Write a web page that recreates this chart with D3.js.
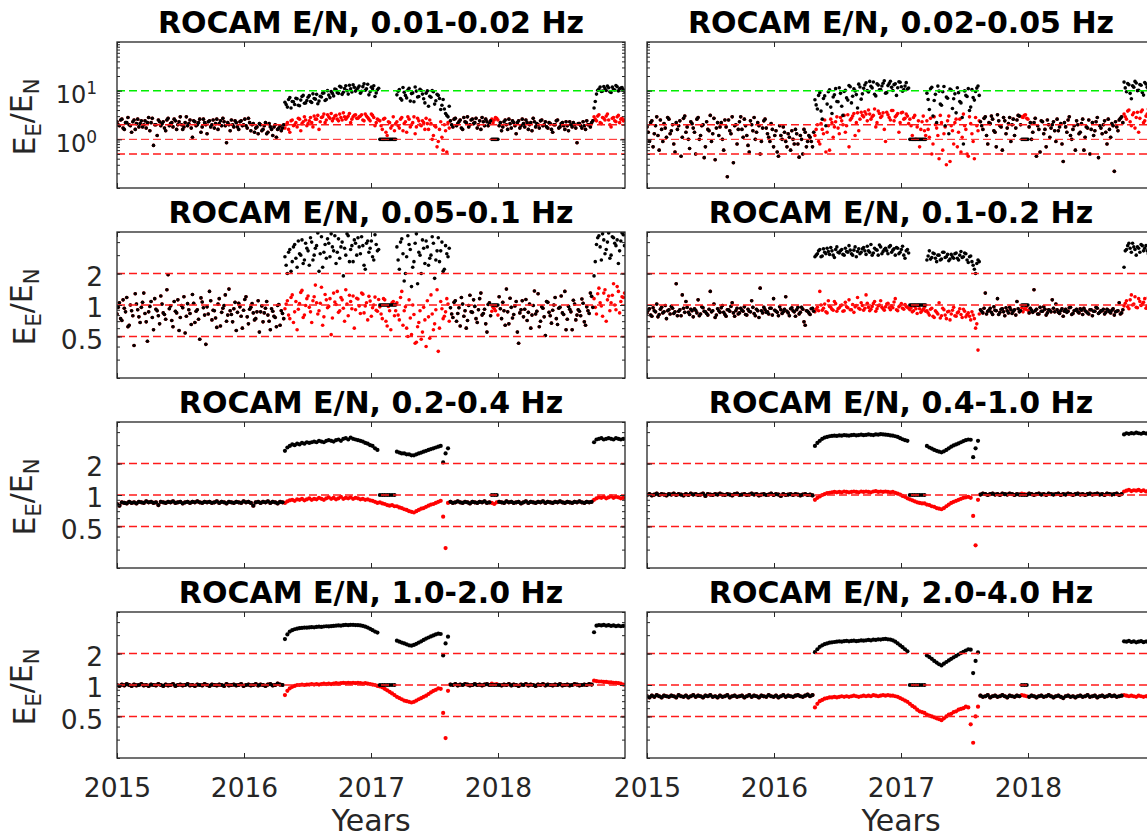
<!DOCTYPE html>
<html>
<head>
<meta charset="utf-8">
<script src="https://cdn.jsdelivr.net/npm/d3@7"></script>
<style>
  body { margin: 0; background: #fff; }
  text { font-family: "DejaVu Sans", sans-serif; }
</style>
</head>
<body>
<script>
// one sample every 7 days, starting 2015.0 (the "h" arrays sit half a step later)
var stepYears = 7 / 365.25;

// index where each period starts (black = red outside the jumps)
var seg = { hi1: 69, w1: 108, hi2: 115, b: 137, w2a: 154, w2b: 157, hi3: 196 };

var bands = ["0.01-0.02 Hz", "0.02-0.05 Hz", "0.05-0.1 Hz", "0.1-0.2 Hz",
             "0.2-0.4 Hz", "0.4-1.0 Hz", "1.0-2.0 Hz", "2.0-4.0 Hz"];

// ---- 0.01-0.02 Hz ----
var red1 = [
  2.3, 1.9, 2.6, 1.6, 2.2, 2.0, 1.4, 2.5, 2.1, 1.8,
  2.4, 2.0, 1.7, 2.8, 2.2, 0.75, 2.0, 2.5, 1.9, 2.3,
  1.5, 2.7, 2.1, 1.8, 2.4, 2.0, 2.9, 1.6, 2.2, 1.9,
  2.5, 1.1, 2.3, 2.0, 2.6, 1.8, 2.2, 1.3, 2.4, 2.0,
  1.7, 2.6, 2.1, 1.9, 2.3, 0.85, 2.0, 2.5, 1.8, 2.2,
  1.6, 2.4, 2.0, 1.9, 2.7, 1.5, 2.1, 1.7, 1.3, 2.0,
  1.6, 2.2, 1.4, 1.8, 1.2, 2.0, 1.6, 1.9, 1.7,
  1.7, 2.2, 1.4, 2.5, 2.0, 1.8, 2.6, 2.1, 2.9, 1.9,
  2.4, 2.2, 3.0, 2.6, 1.6, 2.8, 3.3, 2.5, 2.9, 3.4,
  2.7, 3.1, 2.4, 2.8, 3.5, 2.6, 3.0, 2.2, 2.9, 3.2,
  2.7, 3.0, 2.5, 3.3, 2.8, 2.4, 3.1, 1.9, 2.6,
  2.4, 1.6, 2.7, 1.2, 2.2, 1.9, 1.5,
  2.3, 1.7, 2.8, 2.1, 1.4, 2.6, 2.0, 2.9, 1.8, 2.4,
  1.9, 2.2, 2.7, 1.6, 2.1, 1.2, 1.8, 0.9, 2.3, 0.6,
  1.5, 2.2,
  2.4, 1.8, 2.7, 2.1, 2.5, 1.6, 2.3, 2.9, 2.0, 2.6,
  2.2, 1.7, 2.4, 2.8, 1.9, 2.3, 2.1, 2.6, 2.5, 2.7,
  1.9, 1.5, 2.3, 2.0, 2.6, 1.7, 2.2, 1.3, 2.4, 1.9,
  2.1, 2.5, 1.6, 2.2, 2.7, 1.8, 2.0, 2.4, 1.9, 2.3,
  1.7, 2.1, 1.4, 2.0, 2.5, 1.8, 2.2, 1.6, 1.9, 2.3,
  1.8, 2.0, 0.85, 2.1, 1.7, 1.9, 2.4, 2.0, 2.2,
  2.9, 2.4, 3.2, 2.1, 2.7, 3.0, 2.5, 1.8, 2.8, 2.3, 3.1, 2.6, 2.4
];
var jumpA1 = [
  5.8, 4.6, 7.2, 6.0, 5.2, 6.8, 4.9, 7.6, 5.5, 6.3,
  7.9, 5.7, 6.9, 8.4, 6.1, 7.4, 9.0, 6.6, 8.1, 9.6,
  7.8, 10.5, 8.8, 11.8, 9.3, 12.6, 8.5, 10.9, 13.2, 9.8,
  11.4, 8.9, 12.1, 10.2, 13.5, 9.5, 11.0, 7.6, 10.4
];
var jumpB1 = [
  8.2, 10.5, 6.4, 9.3, 7.1, 11.2, 8.7, 5.9, 9.8, 7.6,
  10.1, 6.8, 8.9, 4.8, 7.3, 9.5, 6.2, 8.0, 4.1, 6.6,
  3.4, 2.9
];
var jumpC1 = [4.4, 8.5, 10.8, 9.6, 12.2, 10.1, 11.5, 9.2, 10.6, 12.8, 9.9, 11.3, 10.4];
var red1h = [
  2.0, 2.5, 1.7, 2.2, 2.8, 1.9, 2.3, 1.6, 2.6, 2.1,
  1.8, 2.4, 2.2, 1.5, 2.7, 2.0, 1.2, 2.3, 2.1, 1.7,
  2.5, 1.9, 2.2, 2.6, 1.6, 2.3, 2.0, 1.8, 2.9, 2.1,
  1.7, 2.4, 1.9, 2.2, 1.4, 2.6, 2.0, 2.3, 1.8, 2.5,
  2.1, 1.6, 2.4, 2.7, 1.9, 2.2, 1.5, 2.0, 2.4, 1.8,
  2.3, 1.9, 2.6, 1.7, 2.2, 2.0, 1.4, 1.8, 2.1, 1.5,
  1.9, 1.3, 2.1, 1.6, 1.8, 1.1, 1.7, 1.5, 2.0,
  2.0, 1.6, 2.4, 1.9, 2.2, 2.7, 1.5, 2.3, 2.5, 2.1,
  2.8, 1.8, 2.6, 3.1, 2.3, 2.9, 2.2, 3.2, 2.7, 2.4,
  3.0, 2.6, 3.3, 2.5, 2.9, 2.8, 3.4, 2.6, 3.1, 2.7,
  2.9, 3.2, 2.4, 3.0, 2.6, 3.3, 2.8, 2.2, 2.5,
  1.9, 2.6, 1.4, 2.3, 1.7, 2.9, 2.1,
  1.9, 2.6, 1.5, 2.3, 2.9, 1.8, 2.2, 1.3, 2.7, 2.0,
  2.4, 1.6, 2.1, 2.5, 1.0, 1.9, 0.7, 1.6, 1.1, 2.0,
  0.55, 1.7,
  2.0, 2.6, 1.9, 2.3, 1.7, 2.8, 2.2, 1.8, 2.5, 2.1,
  2.7, 2.0, 1.6, 2.3, 2.6, 1.9, 2.4, 2.2, 2.8, 2.5,
  2.2, 1.8, 2.5, 1.6, 2.1, 2.4, 1.9, 2.2, 1.7, 2.6,
  1.8, 2.2, 2.0, 1.5, 2.3, 2.1, 1.7, 2.5, 2.0, 1.8,
  2.2, 1.6, 2.0, 2.4, 1.7, 2.1, 1.9, 2.3, 1.5, 2.0,
  2.2, 1.7, 2.1, 1.9, 2.3, 1.6, 2.0, 1.8, 2.4,
  2.6, 3.0, 2.2, 2.8, 2.5, 3.3, 2.0, 2.7, 2.4, 2.9, 2.2, 2.7, 2.5
];
var jumpA1h = [
  5.2, 6.6, 4.4, 5.9, 7.0, 5.0, 6.4, 8.0, 5.6, 7.3,
  6.0, 8.6, 6.7, 5.4, 7.7, 8.9, 6.3, 10.0, 7.2, 8.8,
  10.8, 9.1, 12.3, 8.4, 11.1, 10.0, 12.9, 9.4, 11.7, 10.6,
  12.4, 9.7, 13.8, 10.9, 8.2, 11.8, 12.6, 9.0, 11.2
];
var jumpB1h = [
  9.7, 6.9, 11.6, 8.0, 10.3, 6.1, 9.0, 11.9, 7.4, 10.7,
  8.5, 5.6, 9.9, 7.7, 10.0, 5.3, 8.4, 6.9, 5.0, 4.2,
  3.1, 4.8
];
var jumpC1h = [6.0, 10.2, 11.9, 9.8, 11.0, 12.4, 9.5, 11.8, 10.3, 12.0, 10.9, 11.6, 9.7];

// ---- 0.02-0.05 Hz ----
var red2 = [
  1.8, 0.9, 2.4, 1.3, 2.9, 0.6, 1.6, 2.1, 1.1, 2.6,
  1.5, 0.8, 2.2, 1.9, 0.45, 2.7, 1.4, 1.0, 2.3, 1.7,
  0.5, 2.8, 1.2, 2.0, 0.7, 1.6, 3.1, 1.3, 0.38, 2.2,
  1.8, 1.0, 2.5, 0.17, 1.5, 2.9, 1.9, 0.8, 2.3, 1.6,
  2.6, 1.2, 0.55, 2.0, 2.8, 1.4, 1.9, 0.9, 2.4, 1.7,
  1.1, 2.1, 0.7, 1.5, 0.45, 1.2, 1.8, 0.9, 1.3, 0.6,
  1.0, 1.6, 0.8, 1.2, 0.5, 1.4, 0.9, 1.1, 0.7,
  1.2, 2.0, 0.8, 1.6, 2.5, 1.4, 0.6, 2.2, 1.8, 2.9,
  1.3, 2.4, 3.1, 1.9, 0.7, 2.7, 3.4, 2.2, 1.5, 3.6,
  2.9, 3.3, 4.0, 2.6, 3.1, 1.8, 3.8, 2.8, 3.5, 0.9,
  3.2, 2.5, 3.9, 2.9, 3.4, 2.2, 3.6, 2.7, 3.0,
  2.6, 1.2, 3.1, 1.8, 0.7, 2.3, 1.5,
  2.4, 1.1, 0.5, 2.9, 1.7, 0.4, 2.2, 1.3, 0.3, 3.0,
  1.9, 0.8, 2.6, 1.4, 0.55, 3.3, 1.6, 0.45, 2.1, 0.9,
  2.8, 1.5,
  2.3, 1.6, 2.9, 0.8, 2.1, 2.6, 1.4, 3.2, 1.9, 0.6,
  2.4, 1.7, 2.8, 2.0, 1.2, 2.5, 3.0, 2.9, 3.1, 2.7,
  1.8, 1.0, 2.2, 0.45, 1.6, 2.4, 1.3, 0.7, 2.0, 1.7,
  2.3, 0.9, 1.5, 2.1, 0.35, 1.8, 2.5, 1.2, 1.6, 0.6,
  2.0, 1.4, 2.6, 1.1, 1.7, 0.5, 2.2, 1.5, 2.8, 1.9,
  1.3, 2.4, 0.8, 1.6, 2.1, 0.22, 1.8, 2.5, 2.9,
  3.3, 2.6, 4.0, 1.9, 3.5, 2.8, 1.4, 3.7, 2.2, 3.0, 4.2, 2.5, 3.4
];
var jumpA2 = [
  6.5, 4.2, 9.1, 2.6, 7.8, 5.3, 10.4, 3.4, 8.2, 6.0,
  11.5, 4.8, 9.6, 7.1, 12.8, 5.6, 10.9, 8.3, 13.6, 6.7,
  11.2, 14.5, 9.4, 12.3, 15.1, 7.8, 13.0, 10.6, 14.2, 8.9,
  12.7, 15.6, 10.1, 13.8, 11.5, 14.9, 9.7, 12.4, 10.8
];
var jumpB2 = [
  8.9, 4.1, 11.7, 6.3, 2.2, 9.8, 5.0, 12.2, 7.4, 1.3,
  10.3, 6.8, 3.5, 9.1, 5.6, 0.8, 8.0, 11.0, 4.6, 7.2,
  9.6, 12.5
];
var jumpC2 = [15.0, 9.5, 13.2, 6.8, 11.8, 14.4, 10.2, 12.9, 8.1, 13.7, 11.0, 15.3, 9.9];
var red2h = [
  1.4, 2.2, 0.7, 1.9, 1.2, 2.5, 0.9, 1.7, 2.8, 1.3,
  2.0, 0.55, 1.6, 2.4, 1.1, 3.0, 1.8, 0.65, 2.1, 1.4,
  2.6, 1.0, 1.9, 0.42, 2.3, 1.5, 0.9, 2.7, 1.7, 1.2,
  2.2, 0.6, 1.8, 2.5, 1.3, 0.33, 2.0, 1.6, 2.9, 1.1,
  1.9, 0.75, 2.4, 1.5, 1.0, 2.2, 0.5, 1.7, 2.6, 1.3,
  0.9, 1.6, 1.2, 0.55, 1.9, 1.0, 1.4, 0.7, 1.1, 1.5,
  0.8, 1.3, 0.43, 1.0, 1.6, 0.7, 1.2, 0.9, 1.4,
  1.6, 0.9, 2.1, 1.3, 0.55, 1.9, 2.6, 1.1, 2.3, 1.7,
  2.8, 2.0, 1.4, 3.2, 2.5, 3.0, 1.2, 3.5, 2.6, 3.1,
  3.7, 2.4, 3.3, 2.9, 4.2, 2.2, 3.4, 3.0, 1.6, 3.6,
  2.8, 3.9, 2.4, 3.1, 1.4, 3.5, 2.6, 3.3, 2.1,
  1.9, 2.8, 1.0, 2.4, 1.6, 3.0, 1.2,
  1.6, 2.7, 0.8, 2.0, 1.2, 3.1, 0.6, 1.8, 2.4, 0.35,
  1.5, 2.2, 0.7, 2.6, 1.1, 1.9, 0.5, 2.9, 1.3, 0.4,
  1.9, 2.4,
  1.9, 2.7, 1.2, 2.2, 3.0, 1.5, 0.7, 2.4, 1.8, 2.8,
  1.3, 2.1, 0.9, 2.6, 1.7, 3.1, 2.0, 2.8, 3.2, 2.6,
  2.2, 1.4, 2.7, 1.9, 0.55, 2.3, 1.6, 2.5, 1.1, 2.0,
  1.5, 2.6, 1.8, 0.8, 2.2, 1.4, 2.9, 1.0, 1.9, 2.4,
  1.3, 2.1, 0.6, 1.8, 2.5, 1.6, 1.2, 2.3, 0.42, 1.7,
  2.0, 1.4, 2.6, 1.1, 1.9, 2.3, 1.5, 2.7, 2.2,
  2.9, 3.8, 2.3, 3.2, 1.7, 3.6, 2.7, 4.0, 2.4, 3.3, 1.9, 3.5, 2.8
];
var jumpA2h = [
  5.1, 8.0, 3.8, 6.9, 1.9, 9.5, 4.6, 7.4, 11.0, 5.9,
  8.8, 3.1, 10.2, 6.4, 12.0, 7.7, 9.9, 4.4, 11.9, 8.6,
  13.1, 10.0, 15.5, 11.4, 8.4, 13.9, 10.4, 12.5, 16.0, 9.1,
  14.0, 11.7, 13.3, 8.0, 15.2, 12.0, 10.5, 14.6, 11.3
];
var jumpB2h = [
  6.6, 10.9, 3.0, 8.4, 12.4, 5.3, 9.5, 1.9, 7.0, 10.8,
  4.3, 8.6, 11.5, 6.0, 2.8, 9.9, 7.6, 3.9, 10.5, 6.4,
  11.3, 8.0
];
var jumpC2h = [11.4, 14.0, 8.8, 12.6, 15.5, 10.0, 13.4, 9.2, 14.7, 11.8, 12.9, 10.6, 14.2];

// ---- 0.05-0.1 Hz ----
var red3 = [
  0.82, 1.05, 0.71, 0.93, 1.18, 0.64, 0.88, 0.41, 1.02, 0.77,
  0.95, 1.30, 0.69, 0.86, 1.08, 0.58, 0.91, 0.79, 1.22, 0.84,
  0.73, 1.95, 0.98, 0.62, 0.87, 1.12, 0.76, 0.94, 0.54, 1.03,
  0.83, 1.26, 0.68, 0.90, 0.47, 1.07, 0.80, 0.96, 1.35, 0.72,
  0.88, 0.61, 1.15, 0.85, 0.99, 0.70, 1.42, 0.81, 0.92, 0.57,
  1.04, 0.78, 0.89, 1.20, 0.66, 0.95, 0.84, 0.74, 1.10, 0.86,
  0.69, 0.93, 0.80, 0.58, 0.87, 0.76, 0.99, 0.64, 0.83,
  0.92, 1.10, 0.74, 1.25, 0.86, 0.58, 1.03, 1.38, 0.80, 1.15,
  0.95, 0.68, 1.20, 1.05, 0.88, 1.48, 0.77, 1.12, 0.97, 0.52,
  1.30, 1.01, 0.85, 1.18, 0.93, 1.40, 0.79, 1.08, 1.22, 0.90,
  1.14, 0.83, 1.27, 0.98, 0.72, 1.09, 0.94, 1.19, 0.87,
  0.96, 0.74, 1.12, 0.63, 0.88, 1.05, 0.79,
  1.05, 0.72, 1.35, 0.88, 0.60, 1.12, 0.52, 0.81, 0.44, 0.68,
  0.47, 0.95, 0.40, 0.77, 1.25, 0.58, 0.90, 0.36, 1.08, 0.74,
  0.86, 1.02,
  0.94, 0.76, 1.10, 0.83, 0.63, 1.02, 0.88, 0.71, 1.24, 0.85,
  0.97, 0.68, 1.15, 0.80, 0.91, 0.55, 1.05, 0.87, 0.92, 0.98,
  1.20, 0.74, 0.88, 1.42, 0.66, 0.95, 0.81, 1.08, 0.43, 0.90,
  0.77, 1.13, 0.85, 0.60, 0.99, 0.82, 1.28, 0.70, 0.93, 0.51,
  1.06, 0.79, 0.89, 1.18, 0.65, 0.95, 0.84, 1.35, 0.73, 0.91,
  0.58, 1.02, 0.80, 0.87, 1.14, 0.69, 0.96, 0.83, 1.21,
  1.15, 0.82, 1.45, 0.98, 1.30, 0.70, 1.22, 1.05, 1.60, 0.90, 1.35, 1.08, 1.18
];
var jumpA3 = [
  2.9, 2.0, 3.4, 2.6, 3.8, 2.3, 3.1, 4.2, 2.7, 3.5,
  2.4, 4.0, 3.0, 3.7, 2.1, 4.5, 3.2, 2.8, 3.9, 4.8,
  3.3, 2.5, 4.3, 3.6, 1.9, 3.0, 4.6, 3.4, 2.6, 3.9,
  4.4, 3.1, 3.7, 2.2, 4.1, 3.5, 2.9, 4.7, 3.3
];
var jumpB3 = [
  3.6, 2.2, 4.3, 1.7, 2.9, 3.8, 1.5, 2.6, 4.8, 3.2,
  2.0, 3.5, 4.1, 2.4, 3.0, 3.9, 2.7, 4.4, 3.3, 2.1,
  3.7, 2.9
];
var jumpC3 = [1.9, 3.8, 4.6, 2.7, 4.2, 3.4, 4.9, 3.0, 4.4, 3.7, 2.5, 4.1, 4.7];
var red3h = [
  0.95, 0.74, 1.12, 0.86, 0.62, 1.00, 0.79, 1.28, 0.90, 0.68,
  1.06, 0.83, 0.45, 0.97, 0.76, 1.15, 0.88, 0.66, 1.02, 0.81,
  1.40, 0.92, 0.71, 1.08, 0.84, 0.57, 0.99, 1.20, 0.78, 0.90,
  0.65, 1.04, 0.87, 0.73, 1.17, 0.94, 0.42, 0.82, 1.10, 0.89,
  0.75, 1.02, 0.63, 0.93, 1.25, 0.80, 0.88, 0.69, 1.06, 0.85,
  0.96, 0.60, 1.13, 0.77, 0.91, 1.03, 0.72, 0.86, 0.55, 0.98,
  0.84, 1.08, 0.70, 0.92, 0.78, 0.62, 1.01, 0.88, 0.74,
  1.02, 0.80, 1.18, 0.68, 1.08, 0.91, 1.32, 0.76, 0.99, 1.22,
  0.86, 1.10, 1.55, 0.82, 1.04, 0.64, 1.26, 0.94, 1.15, 0.75,
  1.07, 1.35, 0.88, 1.12, 0.70, 1.02, 1.24, 0.92, 0.60, 1.16,
  0.98, 1.30, 0.84, 1.05, 1.21, 0.78, 1.00, 0.89, 1.13,
  0.82, 1.15, 0.70, 0.97, 0.58, 1.08, 0.88,
  0.80, 1.18, 0.64, 0.96, 0.50, 0.75, 1.00, 0.43, 0.62, 0.88,
  0.55, 0.72, 1.10, 0.48, 0.82, 0.66, 1.40, 0.60, 0.92, 0.78,
  1.15, 0.70,
  0.82, 1.06, 0.70, 0.94, 1.18, 0.78, 0.60, 0.99, 0.86, 1.12,
  0.74, 0.90, 1.30, 0.83, 0.66, 1.01, 0.79, 0.95, 0.88, 0.80,
  0.92, 1.06, 0.64, 0.86, 1.16, 0.75, 0.98, 0.55, 0.84, 1.10,
  0.91, 0.71, 1.02, 0.80, 1.36, 0.87, 0.62, 0.96, 0.77, 1.08,
  0.85, 0.67, 1.00, 0.74, 0.93, 1.22, 0.81, 0.58, 0.97, 0.86,
  1.11, 0.72, 0.90, 0.79, 1.04, 0.64, 0.88, 1.30, 0.95,
  0.95, 1.28, 1.05, 0.78, 1.40, 1.12, 0.88, 1.24, 1.00, 1.50, 0.84, 1.20, 1.30
];
var jumpA3h = [
  2.4, 3.2, 2.1, 3.6, 2.8, 4.1, 3.0, 2.5, 3.9, 3.3,
  4.4, 2.7, 3.5, 4.9, 3.1, 2.3, 3.8, 4.3, 2.9, 3.6,
  4.6, 3.2, 2.8, 4.0, 3.5, 4.8, 2.6, 3.7, 4.2, 3.0,
  3.6, 4.5, 2.4, 3.9, 3.2, 4.1, 2.7, 3.8, 3.4
];
var jumpB3h = [
  2.7, 4.0, 3.1, 2.0, 4.6, 3.4, 2.3, 3.9, 1.6, 3.0,
  4.2, 2.5, 3.6, 2.8, 4.5, 1.8, 3.3, 2.6, 4.0, 2.2,
  3.1, 3.5
];
var jumpC3h = [2.6, 4.4, 3.6, 4.8, 3.1, 4.0, 2.8, 4.5, 3.9, 4.2, 3.3, 4.9, 3.7];

// ---- 0.1-0.2 Hz ----
var red4 = [
  0.84, 0.92, 0.78, 0.88, 1.02, 0.81, 0.95, 0.86, 0.74, 0.90,
  0.97, 0.83, 1.60, 0.87, 0.79, 0.93, 1.08, 0.85, 0.91, 0.77,
  0.89, 1.12, 0.82, 0.94, 0.86, 0.80, 1.35, 0.88, 0.76, 0.92,
  0.85, 0.99, 0.81, 0.90, 0.87, 1.05, 0.78, 0.93, 0.84, 0.89,
  0.96, 0.80, 0.87, 1.10, 0.83, 0.91, 0.76, 0.88, 0.95, 0.85,
  0.82, 0.93, 1.15, 0.87, 0.79, 0.90, 0.86, 1.20, 0.84, 0.92,
  0.88, 0.78, 0.95, 0.85, 0.91, 0.64, 0.87, 0.81, 0.93,
  0.86, 0.95, 1.35, 0.89, 1.02, 0.84, 0.97, 0.91, 1.08, 0.87,
  0.94, 1.00, 0.88, 0.96, 1.12, 0.90, 0.85, 0.99, 0.93, 1.05,
  0.89, 1.25, 0.95, 0.91, 1.03, 0.87, 0.98, 1.10, 0.92, 0.96,
  1.04, 0.90, 0.94, 1.15, 0.88, 0.99, 0.93, 1.01, 0.95,
  0.90, 0.86, 0.97, 0.83, 0.92, 0.88, 0.95,
  0.88, 0.80, 0.93, 0.76, 0.85, 1.05, 0.79, 0.90, 0.74, 0.87,
  0.82, 0.95, 0.78, 0.86, 0.81, 0.91, 0.77, 0.84, 0.72, 0.80,
  0.60, 0.37,
  0.90, 0.84, 1.30, 0.87, 0.93, 0.81, 0.89, 1.15, 0.85, 0.92,
  0.79, 0.88, 0.95, 0.83, 0.90, 1.08, 0.86, 0.94, 0.92, 0.97,
  0.84, 0.89, 1.40, 0.91, 0.82, 0.87, 0.96, 0.80, 0.90, 0.86,
  0.93, 1.02, 0.85, 0.88, 0.78, 0.91, 0.87, 0.95, 0.83, 0.89,
  0.86, 0.92, 0.81, 0.88, 0.84, 0.90, 0.79, 0.87, 0.93, 0.85,
  0.88, 0.82, 0.91, 0.86, 0.89, 0.80, 0.87, 1.05, 0.84,
  0.98, 1.10, 0.92, 1.25, 1.02, 0.95, 1.15, 0.99, 1.06, 0.93, 1.18, 1.01, 1.08
];
var jumpA4 = [
  2.9, 3.1, 3.4, 2.95, 3.2, 3.5, 3.05, 3.3, 2.85, 3.6,
  3.15, 3.4, 3.0, 3.25, 3.7, 3.1, 3.35, 2.9, 3.45, 3.2,
  3.55, 3.05, 3.3, 3.8, 3.15, 3.4, 3.0, 3.6, 3.25, 3.5,
  3.1, 3.7, 3.35, 3.0, 3.5, 3.2, 3.65, 2.8, 3.4
];
var jumpB4 = [
  2.7, 3.3, 2.85, 3.1, 2.6, 3.0, 2.75, 3.2, 2.9, 2.65,
  3.05, 2.8, 3.15, 2.7, 3.25, 2.9, 3.1, 2.55, 2.95, 2.4,
  2.0, 2.7
];
var jumpC4 = [2.3, 3.4, 3.9, 3.2, 3.6, 3.0, 3.5, 3.8, 3.3, 3.7, 3.1, 3.5, 3.4];
var red4h = [
  0.89, 0.80, 0.94, 0.86, 0.77, 0.91, 0.84, 0.99, 0.88, 0.82,
  0.93, 0.86, 0.79, 0.90, 1.25, 0.85, 0.95, 0.81, 0.88, 0.92,
  0.84, 0.79, 0.96, 0.87, 0.83, 0.91, 0.86, 1.02, 0.80, 0.88,
  0.94, 0.85, 0.78, 0.90, 0.97, 0.84, 0.88, 0.82, 0.93, 0.87,
  0.81, 0.91, 0.86, 0.95, 0.79, 0.88, 1.45, 0.84, 0.90, 0.86,
  0.93, 0.80, 0.89, 0.85, 0.96, 0.83, 0.91, 0.87, 0.79, 0.94,
  0.86, 0.90, 0.82, 0.95, 0.69, 0.88, 0.84, 0.92, 0.87,
  0.91, 0.88, 1.00, 0.93, 0.86, 1.10, 0.95, 0.89, 1.03, 0.92,
  0.98, 0.87, 1.06, 0.94, 0.90, 1.01, 0.96, 1.18, 0.91, 0.99,
  0.93, 1.04, 0.88, 0.97, 1.08, 0.92, 1.00, 0.95, 0.89, 1.02,
  0.94, 0.98, 1.07, 0.90, 0.96, 1.03, 0.91, 0.97, 0.93,
  0.94, 0.88, 0.92, 0.99, 0.85, 0.91, 0.87,
  0.84, 0.91, 0.78, 0.88, 0.82, 0.75, 0.93, 0.80, 0.86, 0.72,
  0.89, 0.79, 0.84, 0.92, 0.76, 0.87, 0.81, 0.78, 0.86, 0.74,
  0.66, 0.82,
  0.87, 0.93, 0.82, 0.89, 0.85, 0.96, 0.88, 0.81, 0.91, 0.86,
  0.94, 0.84, 0.90, 0.87, 0.80, 0.92, 0.88, 0.86, 0.91, 0.89,
  0.93, 0.85, 0.88, 0.82, 0.95, 0.87, 0.91, 0.84, 0.89, 1.12,
  0.86, 0.90, 0.83, 0.92, 0.87, 0.85, 0.94, 0.81, 0.88, 0.91,
  0.84, 0.89, 0.93, 0.86, 0.82, 0.90, 0.87, 0.95, 0.83, 0.88,
  0.91, 0.85, 0.89, 0.84, 0.92, 0.86, 0.88, 0.82, 0.90,
  1.04, 0.96, 1.12, 1.00, 1.20, 0.94, 1.08, 1.02, 1.15, 0.97, 1.06, 1.10, 1.00
];
var jumpA4h = [
  3.0, 3.3, 2.9, 3.45, 3.1, 3.25, 3.55, 3.0, 3.4, 3.2,
  3.3, 3.05, 3.5, 3.2, 3.35, 3.0, 3.6, 3.25, 3.1, 3.45,
  3.3, 3.65, 3.2, 3.0, 3.5, 3.35, 3.75, 3.1, 3.4, 3.3,
  3.6, 3.2, 3.45, 3.55, 3.1, 3.4, 3.0, 3.3, 3.15
];
var jumpB4h = [
  2.95, 2.75, 3.15, 2.8, 3.0, 2.7, 3.2, 2.85, 3.05, 2.75,
  2.9, 3.1, 2.8, 3.0, 2.85, 3.15, 2.7, 2.9, 2.6, 2.2,
  2.5, 2.6
];
var jumpC4h = [3.3, 3.7, 3.5, 3.9, 3.4, 3.6, 3.2, 3.7, 3.5, 3.3, 3.6, 3.4, 3.8];

// ---- 0.2-0.4 Hz ----
var red5 = [
  0.82, 0.79, 0.85, 0.84, 0.83, 0.86, 0.84, 0.85, 0.83, 0.86,
  0.85, 0.84, 0.87, 0.85, 0.86, 0.84, 0.85, 0.80, 0.86, 0.85,
  0.84, 0.86, 0.85, 0.87, 0.84, 0.85, 0.86, 0.83, 0.85, 0.86,
  0.84, 0.86, 0.85, 0.87, 0.85, 0.84, 0.86, 0.85, 0.86, 0.84,
  0.85, 0.87, 0.84, 0.86, 0.85, 0.83, 0.86, 0.85, 0.84, 0.86,
  0.85, 0.84, 0.87, 0.85, 0.86, 0.84, 0.79, 0.85, 0.86, 0.84,
  0.86, 0.85, 0.87, 0.84, 0.86, 0.85, 0.83, 0.86, 0.85,
  0.84, 0.87, 0.89, 0.90, 0.88, 0.91, 0.90, 0.92, 0.89, 0.91,
  0.93, 0.90, 0.92, 0.91, 0.94, 0.92, 0.90, 0.93, 0.95, 0.92,
  0.94, 0.91, 0.93, 0.96, 0.92, 0.94, 0.93, 0.95, 0.92, 0.94,
  0.93, 0.91, 0.92, 0.90, 0.91, 0.89, 0.88, 0.86, 0.84,
  0.85, 0.83, 0.82, 0.80, 0.79, 0.80, 0.78,
  0.78, 0.76, 0.75, 0.73, 0.72, 0.70, 0.69, 0.68, 0.70, 0.72,
  0.74, 0.75, 0.77, 0.79, 0.81, 0.82, 0.84, 0.86, 0.88, 0.62,
  0.31, 0.84,
  0.86, 0.84, 0.85, 0.87, 0.85, 0.84, 0.86, 0.85, 0.83, 0.86,
  0.85, 0.84, 0.86, 0.85, 0.87, 0.84, 0.85, 0.84, 0.82, 0.85,
  0.86, 0.85, 0.84, 0.87, 0.85, 0.86, 0.84, 0.85, 0.86, 0.83,
  0.85, 0.87, 0.84, 0.86, 0.85, 0.84, 0.86, 0.85, 0.87, 0.84,
  0.86, 0.85, 0.84, 0.86, 0.85, 0.87, 0.85, 0.84, 0.86, 0.85,
  0.84, 0.86, 0.85, 0.87, 0.85, 0.84, 0.86, 0.85, 0.86,
  0.90, 0.93, 0.95, 0.94, 0.96, 0.93, 0.95, 0.97, 0.94, 0.96, 0.95, 0.93, 0.94
];
var jumpA5 = [
  2.65, 2.85, 2.95, 3.05, 3.0, 3.1, 3.05, 3.15, 3.1, 3.2,
  3.15, 3.2, 3.25, 3.2, 3.3, 3.25, 3.2, 3.3, 3.35, 3.3,
  3.25, 3.35, 3.4, 3.3, 3.45, 3.5, 3.4, 3.55, 3.45, 3.4,
  3.35, 3.3, 3.25, 3.15, 3.1, 3.0, 2.95, 2.8, 2.7
];
var jumpB5 = [
  2.6, 2.55, 2.5, 2.5, 2.45, 2.45, 2.4, 2.4, 2.45, 2.5,
  2.55, 2.6, 2.65, 2.7, 2.75, 2.8, 2.85, 2.9, 2.95, 2.05,
  2.5, 2.8
];
var jumpC5 = [3.2, 3.4, 3.45, 3.5, 3.4, 3.45, 3.5, 3.45, 3.4, 3.5, 3.45, 3.4, 3.45];

// ---- 0.4-1.0 Hz ----
var red6 = [
  1.00, 1.02, 0.99, 1.01, 1.03, 1.00, 1.02, 1.01, 0.99, 1.02,
  1.01, 1.03, 1.00, 1.02, 1.01, 0.99, 1.02, 1.00, 1.03, 1.01,
  1.02, 1.00, 1.01, 1.03, 0.98, 1.02, 1.01, 1.00, 1.02, 1.01,
  1.03, 1.01, 1.00, 1.02, 1.01, 0.99, 1.02, 1.03, 1.00, 1.01,
  1.02, 1.00, 1.01, 1.03, 1.01, 1.02, 0.99, 1.01, 1.02, 1.00,
  1.01, 1.03, 1.00, 1.02, 1.01, 0.98, 1.02, 1.00, 1.01, 1.02,
  1.00, 1.02, 1.01, 0.99, 1.01, 1.02, 1.00, 1.01, 0.99,
  0.90, 0.94, 0.97, 1.00, 1.02, 1.04, 1.05, 1.06, 1.07, 1.06,
  1.07, 1.06, 1.08, 1.07, 1.06, 1.07, 1.08, 1.07, 1.06, 1.08,
  1.07, 1.08, 1.07, 1.06, 1.08, 1.09, 1.07, 1.08, 1.07, 1.08,
  1.07, 1.06, 1.07, 1.05, 1.03, 1.01, 0.98, 0.96, 0.93,
  0.91, 0.89, 0.87, 0.85, 0.84, 0.83, 0.83,
  0.81, 0.80, 0.78, 0.77, 0.75, 0.74, 0.73, 0.75, 0.78, 0.81,
  0.84, 0.86, 0.88, 0.90, 0.92, 0.94, 0.95, 0.96, 0.94, 0.63,
  0.33, 0.90,
  1.01, 1.03, 1.02, 1.00, 1.02, 1.03, 1.01, 1.02, 1.00, 1.03,
  1.02, 1.01, 1.03, 1.02, 1.00, 1.02, 1.01, 1.03, 1.02, 1.01,
  1.03, 1.02, 1.00, 1.02, 1.03, 1.01, 1.02, 1.00, 1.03, 1.02,
  1.01, 1.02, 1.03, 1.00, 1.02, 1.01, 1.03, 1.02, 1.00, 1.02,
  1.03, 1.01, 1.02, 1.00, 1.02, 1.03, 1.01, 1.02, 1.03, 1.01,
  1.02, 1.00, 1.03, 1.02, 1.01, 1.02, 1.03, 1.00, 1.02,
  1.08, 1.10, 1.12, 1.09, 1.11, 1.10, 1.12, 1.09, 1.11, 1.08, 1.10, 1.09, 1.07
];
var jumpA6 = [
  2.95, 3.15, 3.3, 3.45, 3.55, 3.6, 3.65, 3.68, 3.7, 3.68,
  3.72, 3.7, 3.75, 3.72, 3.7, 3.74, 3.76, 3.72, 3.75, 3.78,
  3.74, 3.76, 3.8, 3.77, 3.75, 3.8, 3.78, 3.82, 3.8, 3.78,
  3.76, 3.72, 3.7, 3.65, 3.6, 3.5, 3.42, 3.35, 3.3
];
var jumpB6 = [
  2.95, 2.85, 2.78, 2.7, 2.65, 2.6, 2.56, 2.62, 2.7, 2.8,
  2.9, 2.98, 3.05, 3.12, 3.2, 3.28, 3.35, 3.4, 3.38, 2.3,
  2.8, 3.3
];
var jumpC6 = [3.8, 3.9, 3.85, 3.92, 3.88, 3.95, 3.9, 3.86, 3.93, 3.88, 3.9, 3.85, 3.92];

// ---- 1.0-2.0 Hz ----
var red7 = [
  1.00, 0.98, 1.01, 0.99, 1.02, 1.00, 0.98, 1.01, 0.99, 1.00,
  1.02, 0.99, 1.00, 0.98, 1.01, 1.00, 0.99, 1.02, 1.00, 0.98,
  1.01, 0.99, 1.00, 1.02, 0.98, 1.00, 1.01, 0.99, 1.00, 1.02,
  0.99, 1.00, 0.98, 1.01, 1.00, 0.99, 1.02, 1.00, 0.98, 1.01,
  1.00, 0.99, 1.01, 1.00, 0.98, 1.02, 0.99, 1.00, 1.01, 0.99,
  1.00, 1.02, 0.98, 1.00, 1.01, 0.99, 1.00, 1.02, 0.99, 1.01,
  1.00, 0.98, 1.01, 1.02, 0.99, 1.00, 1.03, 1.01, 1.00,
  0.80, 0.88, 0.93, 0.96, 0.98, 1.00, 1.00, 1.01, 1.00, 1.01,
  1.01, 1.02, 1.01, 1.02, 1.01, 1.02, 1.03, 1.02, 1.03, 1.02,
  1.03, 1.04, 1.03, 1.04, 1.05, 1.04, 1.05, 1.04, 1.05, 1.04,
  1.05, 1.04, 1.03, 1.04, 1.03, 1.02, 1.01, 1.00, 0.98,
  0.97, 0.95, 0.92, 0.89, 0.86, 0.83, 0.80,
  0.77, 0.75, 0.73, 0.71, 0.70, 0.69, 0.68, 0.69, 0.71, 0.73,
  0.75, 0.77, 0.79, 0.82, 0.85, 0.88, 0.90, 0.93, 0.92, 0.54,
  0.31, 0.88,
  1.01, 1.00, 1.02, 0.99, 1.01, 1.00, 1.02, 1.01, 0.99, 1.00,
  1.02, 1.00, 1.01, 0.99, 1.01, 1.02, 1.00, 1.03, 1.01, 1.02,
  1.00, 0.99, 1.01, 1.00, 1.02, 0.99, 1.01, 1.00, 0.98, 1.01,
  1.00, 1.02, 0.99, 1.01, 1.00, 0.98, 1.01, 1.00, 1.02, 0.99,
  1.01, 1.00, 0.99, 1.01, 1.00, 1.02, 0.99, 1.00, 1.01, 0.99,
  1.00, 1.02, 1.01, 0.99, 1.00, 1.01, 1.00, 1.02, 1.01,
  1.10, 1.09, 1.08, 1.08, 1.07, 1.07, 1.06, 1.06, 1.05, 1.05, 1.04, 1.03, 1.01
];
var jumpA7 = [
  2.75, 3.05, 3.25, 3.35, 3.42, 3.46, 3.5, 3.52, 3.55, 3.54,
  3.56, 3.58, 3.57, 3.6, 3.62, 3.6, 3.63, 3.65, 3.64, 3.66,
  3.68, 3.7, 3.72, 3.7, 3.74, 3.76, 3.74, 3.77, 3.76, 3.75,
  3.74, 3.72, 3.68, 3.62, 3.55, 3.45, 3.35, 3.25, 3.18
];
var jumpB7 = [
  2.66, 2.6, 2.55, 2.5, 2.45, 2.4, 2.38, 2.42, 2.48, 2.55,
  2.62, 2.7, 2.78, 2.85, 2.92, 2.98, 3.05, 3.1, 3.08, 1.92,
  2.5, 2.9
];
var jumpC7 = [3.2, 3.7, 3.75, 3.72, 3.76, 3.7, 3.74, 3.68, 3.72, 3.66, 3.7, 3.65, 3.68];

// ---- 2.0-4.0 Hz ----
var red8 = [
  0.78, 0.76, 0.79, 0.77, 0.80, 0.78, 0.76, 0.79, 0.78, 0.77,
  0.79, 0.78, 0.76, 0.80, 0.78, 0.77, 0.79, 0.76, 0.78, 0.80,
  0.77, 0.79, 0.78, 0.76, 0.79, 0.78, 0.80, 0.77, 0.78, 0.76,
  0.79, 0.77, 0.78, 0.80, 0.76, 0.78, 0.79, 0.77, 0.78, 0.79,
  0.76, 0.78, 0.80, 0.77, 0.79, 0.78, 0.76, 0.79, 0.78, 0.77,
  0.80, 0.78, 0.77, 0.79, 0.76, 0.78, 0.80, 0.77, 0.79, 0.78,
  0.77, 0.79, 0.80, 0.78, 0.77, 0.79, 0.81, 0.78, 0.80,
  0.61, 0.66, 0.70, 0.72, 0.74, 0.75, 0.76, 0.76, 0.77, 0.76,
  0.77, 0.78, 0.77, 0.78, 0.77, 0.78, 0.79, 0.78, 0.77, 0.78,
  0.79, 0.78, 0.79, 0.78, 0.80, 0.79, 0.78, 0.79, 0.80, 0.79,
  0.80, 0.79, 0.79, 0.78, 0.77, 0.75, 0.73, 0.71, 0.69,
  0.66, 0.63, 0.61, 0.58, 0.56, 0.55, 0.54,
  0.52, 0.51, 0.50, 0.49, 0.48, 0.47, 0.46, 0.48, 0.50, 0.52,
  0.53, 0.55, 0.56, 0.58, 0.59, 0.60, 0.62, 0.61, 0.42, 0.28,
  0.50, 0.62,
  0.79, 0.77, 0.78, 0.80, 0.76, 0.78, 0.79, 0.77, 0.78, 0.80,
  0.78, 0.76, 0.79, 0.78, 0.77, 0.79, 0.78, 0.80, 0.79, 0.78,
  0.77, 0.79, 0.78, 0.76, 0.78, 0.79, 0.77, 0.78, 0.80, 0.78,
  0.76, 0.78, 0.79, 0.77, 0.75, 0.78, 0.79, 0.77, 0.78, 0.76,
  0.78, 0.79, 0.77, 0.78, 0.80, 0.77, 0.78, 0.79, 0.76, 0.78,
  0.79, 0.77, 0.78, 0.80, 0.78, 0.79, 0.77, 0.78, 0.79,
  0.80, 0.79, 0.78, 0.79, 0.78, 0.77, 0.79, 0.78, 0.77, 0.78, 0.79, 0.77, 0.78
];
var jumpA8 = [
  2.06, 2.2, 2.32, 2.4, 2.46, 2.5, 2.54, 2.56, 2.58, 2.6,
  2.62, 2.6, 2.63, 2.65, 2.62, 2.64, 2.66, 2.63, 2.65, 2.67,
  2.66, 2.68, 2.7, 2.67, 2.72, 2.7, 2.74, 2.72, 2.75, 2.76,
  2.74, 2.72, 2.68, 2.6, 2.5, 2.4, 2.3, 2.2, 2.1
];
var jumpB8 = [
  1.92, 1.85, 1.78, 1.7, 1.64, 1.58, 1.54, 1.6, 1.66, 1.72,
  1.78, 1.84, 1.9, 1.96, 2.02, 2.08, 2.14, 2.2, 2.18, 1.3,
  1.7, 2.05
];
var jumpC8 = [2.62, 2.6, 2.64, 2.58, 2.62, 2.56, 2.6, 2.63, 2.57, 2.61, 2.59, 2.62, 2.6];

var reds = [red1, red2, red3, red4, red5, red6, red7, red8];
var jumpsA = [jumpA1, jumpA2, jumpA3, jumpA4, jumpA5, jumpA6, jumpA7, jumpA8];
var jumpsB = [jumpB1, jumpB2, jumpB3, jumpB4, jumpB5, jumpB6, jumpB7, jumpB8];
var jumpsC = [jumpC1, jumpC2, jumpC3, jumpC4, jumpC5, jumpC6, jumpC7, jumpC8];
// half-step samples, only for the four scattered low-frequency panels
var halfRed = [red1h, red2h, red3h, red4h, null, null, null, null];
var halfA = [jumpA1h, jumpA2h, jumpA3h, jumpA4h];
var halfB = [jumpB1h, jumpB2h, jumpB3h, jumpB4h];
var halfC = [jumpC1h, jumpC2h, jumpC3h, jumpC4h];

var xTicks = [2015, 2016, 2017, 2018];
var wideTicks = [1, 10];          // top row, labels 10^0 and 10^1
var narrowTicks = [0.5, 1, 2];
var wideRefs = [10, 2, 1, 0.5];
var narrowRefs = [2, 1, 0.5];

// black series: same as red except the jumps and the two flat stretches at 1
function blackSeries(red, a, b, c) {
  return red.map(function(v, i) {
    if (i >= seg.hi3) return c[i - seg.hi3];
    if (i >= seg.w2a && i < seg.w2b) return 1;
    if (i >= seg.b) return v;
    if (i >= seg.hi2) return b[i - seg.hi2];
    if (i >= seg.w1) return 1;
    if (i >= seg.hi1) return a[i - seg.hi1];
    return v;
  });
}

function toPoints(red, a, b, c, offset) {
  var black = blackSeries(red, a, b, c);
  return red.map(function(v, i) {
    return { t: 2015 + (i + offset) * stepYears, r: v, b: black[i] };
  });
}

function minorTicks(lo, hi) {
  var out = [];
  for (var e = -2; e <= 2; e++) {
    for (var m = 1; m <= 9; m++) {
      var v = m * Math.pow(10, e);
      if (v >= lo * 0.999 && v <= hi * 1.001) out.push(v);
    }
  }
  return out;
}

var colX = [117, 647];
var rowY = [42, 232, 422, 612];
var pw = 508, ph = 146;
var axisColor = "#262626";
var tickFont = 26.5, labelFont = 30;

var svg = d3.select("body").append("svg")
  .attr("width", 1147)
  .attr("height", 837);

var x = d3.scaleLinear().domain([2015, 2019]).range([0, pw]);

reds.forEach(function(red, k) {
  var col = k % 2, row = Math.floor(k / 2);
  var wide = row === 0;
  var y = d3.scaleLog()
    .domain(wide ? [0.1, 100] : [0.2, 5])
    .range([ph, 0]);

  var g = svg.append("g")
    .attr("transform", `translate(${colX[col]}, ${rowY[row]})`);

  g.append("clipPath").attr("id", "clip" + k)
    .append("rect").attr("width", pw).attr("height", ph);

  var pts = toPoints(red, jumpsA[k], jumpsB[k], jumpsC[k], 0);
  if (halfRed[k]) {
    pts = pts.concat(toPoints(halfRed[k], halfA[k], halfB[k], halfC[k], 0.5));
  }
  var rad = row < 2 ? 1.8 : 2.1;

  var dots = g.append("g").attr("clip-path", `url(#clip${k})`);
  dots.selectAll(".r").data(pts.filter(d => d.r != null))
    .enter().append("circle")
    .attr("cx", d => x(d.t))
    .attr("cy", d => y(d.r))
    .attr("r", rad)
    .attr("fill", "#ff0000");
  dots.selectAll(".b").data(pts.filter(d => d.b != null))
    .enter().append("circle")
    .attr("cx", d => x(d.t))
    .attr("cy", d => y(d.b))
    .attr("r", rad)
    .attr("fill", "#000");

  // dashed reference lines sit on top of the dots
  var refs = wide ? wideRefs : narrowRefs;
  g.selectAll(".ref").data(refs).enter().append("line")
    .attr("x1", 0).attr("x2", pw)
    .attr("y1", d => y(d)).attr("y2", d => y(d))
    .attr("stroke", d => d === 10 ? "#00ee00" : "#ff1a1a")
    .attr("stroke-width", d => (wide && d === 1) ? 1 : 1.5)
    .attr("stroke-dasharray", "8,4");

  // axes, ticks pointing inward on all four sides
  var yMinor = minorTicks(y.domain()[0], y.domain()[1]);
  var yMajor = wide ? wideTicks : narrowTicks;

  function strip(sel) { sel.select(".domain").remove(); }

  g.append("g").attr("color", axisColor)
    .call(d3.axisLeft(y).tickValues(yMinor).tickSize(-3).tickFormat(""))
    .call(strip);
  g.append("g").attr("color", axisColor)
    .attr("transform", `translate(${pw},0)`)
    .call(d3.axisRight(y).tickValues(yMinor).tickSize(-3).tickFormat(""))
    .call(strip);
  g.append("g").attr("color", axisColor)
    .attr("transform", `translate(${pw},0)`)
    .call(d3.axisRight(y).tickValues(yMajor).tickSize(-5).tickFormat(""))
    .call(strip);

  var yAxis = g.append("g").attr("color", axisColor)
    .call(d3.axisLeft(y).tickValues(yMajor).tickSize(-5)
      .tickPadding(col === 0 ? (wide ? 20 : 14) : 0)
      .tickFormat(col === 0 ? (wide ? d => "10" : d => String(d)) : ""))
    .call(strip);
  yAxis.selectAll("text")
    .attr("font-size", wide ? 24 : tickFont)
    .attr("fill", axisColor)
    .attr("dy", wide ? "0.51em" : "0.44em");
  if (col === 0 && wide) {
    yAxis.selectAll("text").append("tspan")
      .attr("dy", "-0.55em")
      .attr("font-size", 17)
      .text(d => Math.round(Math.log10(d)));
  }

  g.append("g").attr("color", axisColor)
    .call(d3.axisTop(x).tickValues(xTicks).tickSize(-5).tickFormat(""))
    .call(strip);
  var xAxis = g.append("g").attr("color", axisColor)
    .attr("transform", `translate(0,${ph})`)
    .call(d3.axisBottom(x).tickValues(xTicks).tickSize(-5).tickPadding(20)
      .tickFormat(row === 3 ? d3.format("d") : ""))
    .call(strip);
  xAxis.selectAll("text").attr("font-size", tickFont).attr("fill", axisColor);

  g.append("rect")
    .attr("width", pw).attr("height", ph)
    .attr("fill", "none")
    .attr("stroke", axisColor)
    .attr("stroke-width", 1.3);

  // title
  g.append("text")
    .attr("x", pw / 2).attr("y", -9)
    .attr("text-anchor", "middle")
    .attr("font-size", labelFont)
    .attr("font-weight", "bold")
    .attr("fill", "#000")
    .text("ROCAM E/N, " + bands[k]);

  // y label E_E/E_N on the left column
  if (col === 0) {
    var lab = g.append("text")
      .attr("transform", `translate(${35 - colX[0]}, ${ph / 2 + 2}) rotate(-90)`)
      .attr("text-anchor", "middle")
      .attr("font-size", labelFont)
      .attr("fill", axisColor);
    lab.append("tspan").text("E");
    lab.append("tspan").attr("dy", "0.3em").attr("font-size", 21).text("E");
    lab.append("tspan").attr("dy", "-0.3em").text("/E");
    lab.append("tspan").attr("dy", "0.3em").attr("font-size", 21).text("N");
  }

  if (row === 3) {
    g.append("text")
      .attr("x", pw / 2).attr("y", ph + 73)
      .attr("text-anchor", "middle")
      .attr("font-size", labelFont)
      .attr("fill", axisColor)
      .text("Years");
  }
});
</script>
</body>
</html>
